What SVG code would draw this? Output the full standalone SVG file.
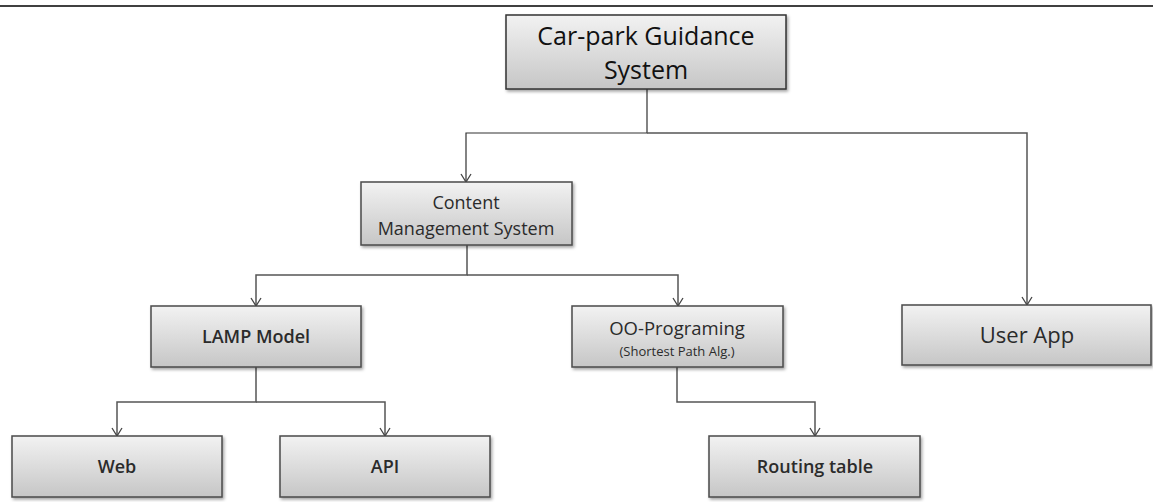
<svg xmlns="http://www.w3.org/2000/svg" width="1153" height="502" viewBox="0 0 1153 502">
  <style>
    .box { fill: url(#g); stroke: #4a4a4a; stroke-width: 1.5; filter: url(#sh); }
    .t { font-family: "Open Sans", "Liberation Sans", sans-serif; fill: #2b2b2b; text-anchor: middle; }
    .b { font-weight: 600; }
    .c { fill: none; stroke: #555; stroke-width: 1.5; marker-end: url(#arr); }
  </style>
  <defs>
    <linearGradient id="g" x1="0" y1="0" x2="0" y2="1">
      <stop offset="0" stop-color="#f2f2f2"/>
      <stop offset="1" stop-color="#c6c6c6"/>
    </linearGradient>
    <filter id="sh" x="-10%" y="-10%" width="130%" height="140%">
      <feDropShadow dx="1.5" dy="2" stdDeviation="1.5" flood-color="#000" flood-opacity="0.35"/>
    </filter>
    <marker id="arr" viewBox="0 0 12 12" refX="11" refY="6" markerWidth="12" markerHeight="12" markerUnits="userSpaceOnUse" orient="auto">
      <path d="M3,1 L11,6 L3,11" fill="none" stroke="#444" stroke-width="1.3"/>
    </marker>
  </defs>
  <line x1="0" y1="6" x2="1153" y2="6" stroke="#000" stroke-width="1.5"/>
  <g id="connectors">
    <path class="c" d="M647,89 V133 H466 V182" style="stroke:#333;stroke-width:1.2"/>
    <path class="c" d="M647,133 H1027 V305"/>
    <path class="c" d="M467,245 V275 H256 V306"/>
    <path class="c" d="M467,275 H678 V306"/>
    <path class="c" d="M256,367 V402 H117 V436"/>
    <path class="c" d="M256,402 H385 V436"/>
    <path class="c" d="M677,367 V402 H815 V436"/>
  </g>
  <g id="cgs">
    <rect class="box" x="506" y="15" width="280" height="74" style="stroke:#333"/>
    <text class="t" x="646" y="45" font-size="25" style="fill:#111">Car-park Guidance</text>
    <text class="t" x="646" y="79" font-size="25" style="fill:#111">System</text>
  </g>
  <g id="cms">
    <rect class="box" x="361" y="182" width="211" height="63"/>
    <text class="t" x="466" y="209" font-size="18">Content</text>
    <text class="t" x="466" y="235" font-size="18">Management System</text>
  </g>
  <g id="userapp">
    <rect class="box" x="902" y="305" width="249" height="60"/>
    <text class="t" x="1027" y="343" font-size="22">User App</text>
  </g>
  <g id="lamp">
    <rect class="box" x="151" y="306" width="210" height="61"/>
    <text class="t b" x="256" y="343" font-size="18">LAMP Model</text>
  </g>
  <g id="oo">
    <rect class="box" x="572" y="306" width="211" height="61"/>
    <text class="t" x="677" y="335" font-size="18.5">OO-Programing</text>
    <text class="t" x="677" y="356" font-size="13">(Shortest Path Alg.)</text>
  </g>
  <g id="web">
    <rect class="box" x="12" y="436" width="210" height="61"/>
    <text class="t b" x="117" y="473" font-size="18">Web</text>
  </g>
  <g id="api">
    <rect class="box" x="280" y="436" width="210" height="61"/>
    <text class="t b" x="385" y="473" font-size="18">API</text>
  </g>
  <g id="routing">
    <rect class="box" x="709" y="436" width="211" height="61"/>
    <text class="t b" x="815" y="473" font-size="18">Routing table</text>
  </g>
</svg>
